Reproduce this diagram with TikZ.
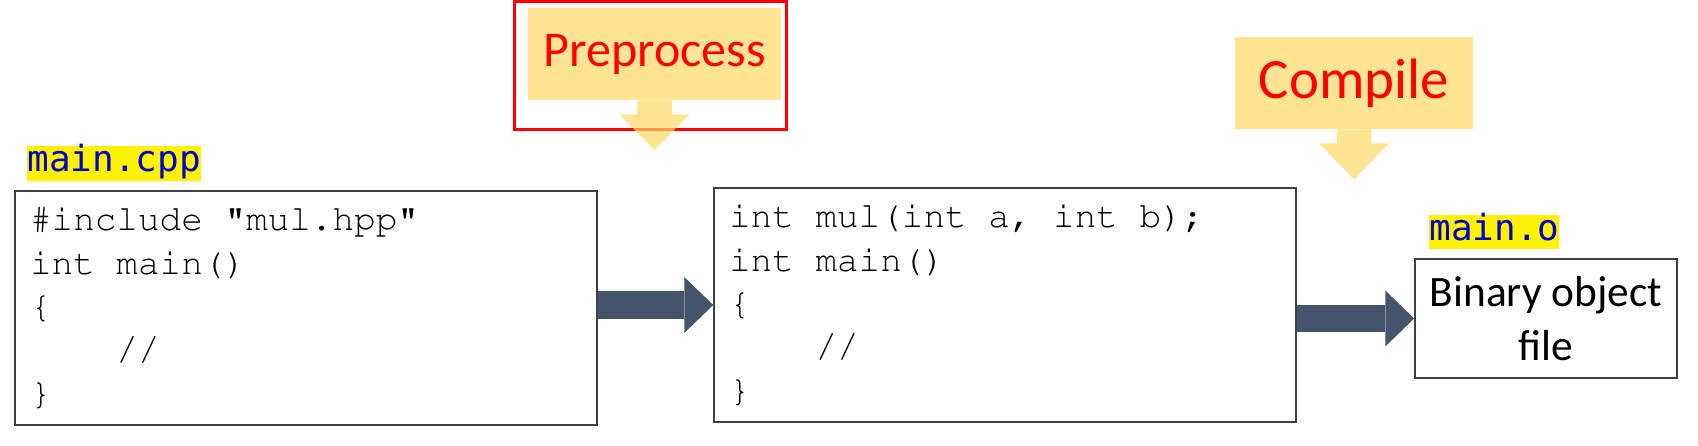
\documentclass[tikz,border=0pt]{standalone}
\usepackage[T1]{fontenc}
\usepackage{fontspec}
\newfontfamily\calibri{Carlito}
\newfontfamily\labelmono{DejaVu Sans Mono}
\newcommand\codefont{\fontencoding{T1}\fontfamily{pcr}\fontsize{20.5}{24.7}\selectfont}
\usetikzlibrary{arrows.meta,positioning}
\definecolor{slate}{HTML}{44546A}
\definecolor{callgold}{HTML}{FFD966}
\definecolor{fnblue}{HTML}{0000CC}
\definecolor{boxgray}{HTML}{404040}
\newcommand\blank{\hspace*{0.6em}}
\newcommand\ind{\hspace*{2.4em}}

\begin{document}
\begin{tikzpicture}[x=0.02cm, y=-0.02cm,
  codebox/.style={draw=boxgray, line width=0.9pt, align=left, inner xsep=0.3cm, text width=11.04cm, minimum height=4.68cm, font=\codefont},
  fname/.style={fill=yellow, text=fnblue, inner sep=0pt, text height=14.5pt, text depth=5pt, font=\labelmono\fontsize{20.5}{24}\selectfont},
  callout/.style={fill=callgold, fill opacity=0.7, text opacity=1, text=red, minimum height=1.84cm, inner sep=0pt},
  flow/.style={draw=slate, line width=0.56cm, -{Triangle[length=0.58cm,width=1.12cm,line width=0pt]}}]
  \useasboundingbox (0,0) rectangle (1698,446);
  % source, preprocessed source, object file
  \node[codebox] (src) at (306,308) {\#include\blank"mul.hpp"\\int\blank main()\\\{\\\ind//\\\}};
  \node[codebox] (pre) at (1005,305) {int\blank mul(int\blank a,\blank int\blank b);\\int\blank main()\\\{\\\ind//\\\}};
  \node[draw=boxgray, line width=0.9pt, align=center, minimum width=5.24cm, minimum height=2.38cm, font=\calibri\fontsize{24.7}{30.6}\selectfont] (obj) at (1546,318.5) {Binary object\\file};
  \node[fname, anchor=west] (srcname) at (27,163.5) {main.cpp};
  \node[fname, anchor=west] (objname) at (1429,232) {main.o};
  \draw[flow] (pre.west -| src.east) -- (pre.west);
  \draw[flow] (obj.west -| pre.east) -- (obj.west);
  % step callouts, the first one framed
  \draw[red, line width=0.06cm] (514.5,1.5) rectangle (786,130);
  \node[callout, minimum width=5.06cm, font=\calibri\fontsize{28.5}{34}\selectfont] (prep) at (654.5,54) {Preprocess};
  \fill[callgold, opacity=0.7] (prep.south) ++(-17.5,0) -- ++(0,14) -- ++(-17.5,0) -- ++(35,36) -- ++(35,-36) -- ++(-17.5,0) -- ++(0,-14) -- cycle;
  \node[callout, minimum width=4.76cm, font=\calibri\fontsize{32.4}{38}\selectfont] (comp) at (1354,83) {Compile};
  \fill[callgold, opacity=0.7] (comp.south) ++(-17.5,0) -- ++(0,14) -- ++(-17.5,0) -- ++(35,36) -- ++(35,-36) -- ++(-17.5,0) -- ++(0,-14) -- cycle;
\end{tikzpicture}
\end{document}
